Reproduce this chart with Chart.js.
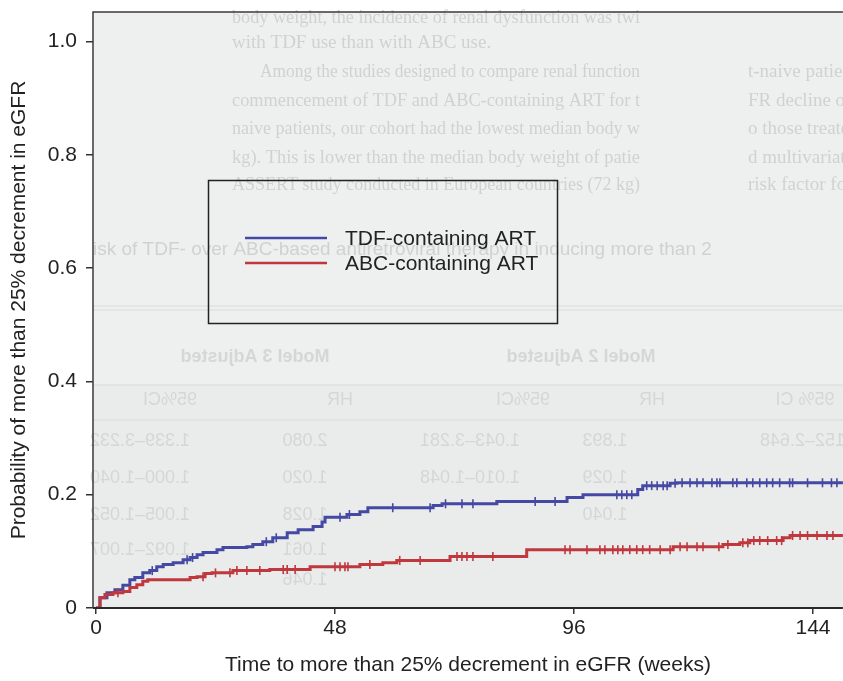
<!DOCTYPE html>
<html>
<head>
<meta charset="utf-8">
<script src="https://cdn.jsdelivr.net/npm/chart.js@4.4.1/dist/chart.umd.min.js"></script>
<style>
  html, body { margin: 0; padding: 0; background: #fff; overflow: hidden; width: 843px; height: 681px; }
</style>
</head>
<body>
<!-- a few px wider than the window: the censor marks make Chart.js keep a small right margin -->
<canvas id="myChart" width="849" height="681"></canvas>
<script>
// series (weeks, cumulative probability)
const seriesLabels = ["TDF-containing ART", "ABC-containing ART"];

const tdfWeeks = [0, 0.8, 2.2, 3.8, 5.4, 6.8, 7.8, 9.4, 10.8, 12.2, 13.5, 15.5, 17.5, 18.9, 20.3,
  21.5, 24.3, 25.5, 30.3, 31.5, 33.5, 35.5, 38.4, 40.6, 43.6, 45.4, 46.0, 50.4, 53.0, 54.6,
  67.7, 69.5, 80.5, 94.6, 97.8, 108.8, 109.8, 115.3, 116.7];
const tdfProb = [0, 0.018, 0.027, 0.032, 0.040, 0.050, 0.054, 0.062, 0.066, 0.073, 0.077, 0.080, 0.085, 0.089, 0.094,
  0.098, 0.103, 0.107, 0.108, 0.112, 0.117, 0.124, 0.133, 0.138, 0.144, 0.152, 0.160, 0.165, 0.170, 0.177,
  0.181, 0.184, 0.188, 0.195, 0.200, 0.209, 0.216, 0.220, 0.221];
const tdfCensor = [11.3, 18.3, 19.4, 34.2, 36.2, 49.0, 50.9, 59.6, 67.1, 70.2, 73.5, 75.7, 88.2, 92.2,
  104.6, 105.6, 106.6, 107.6, 110.6, 111.6, 112.7, 113.9, 114.7, 116.3, 117.7, 119.3, 120.7, 121.9,
  123.7, 124.7, 125.3, 127.9, 128.7, 130.7, 131.9, 133.3, 134.7, 135.9, 137.3, 139.3, 139.9, 142.9,
  145.9, 147.7, 148.8];

const abcWeeks = [0, 0.8, 1.8, 3.4, 5.4, 6.8, 8.2, 9.4, 10.4, 18.9, 20.3, 21.9, 23.3, 27.5, 34.9,
  43.0, 53.0, 57.6, 60.4, 71.1, 86.5, 115.9, 125.9, 129.3, 131.3, 138.0, 139.4];
const abcProb = [0, 0.018, 0.024, 0.027, 0.029, 0.036, 0.041, 0.047, 0.050, 0.054, 0.055, 0.061, 0.062, 0.066, 0.068,
  0.073, 0.077, 0.080, 0.084, 0.091, 0.103, 0.108, 0.112, 0.115, 0.119, 0.124, 0.128];
const abcCensor = [4.4, 21.5, 24.0, 26.9, 28.3, 30.3, 32.9, 37.6, 38.4, 40.0, 48.0, 49.0, 50.0, 50.6,
  55.0, 61.0, 65.1, 72.5, 73.5, 74.5, 75.7, 79.7, 94.2, 95.2, 98.6, 101.2, 102.2, 103.8, 104.8,
  105.8, 107.2, 108.6, 109.8, 111.2, 113.3, 115.3, 117.3, 118.7, 120.7, 121.9, 125.1, 126.9, 129.9,
  130.9, 132.1, 133.3, 134.9, 136.7, 137.7, 139.9, 141.4, 142.9, 144.8, 146.8, 148.0];

const followUpEnd = 150;
const xTicks = [0, 48, 96, 144];
const yTicks = [0, 0.2, 0.4, 0.6, 0.8, 1.0];

const blue = "#4549a3";
const red = "#c0373d";
const ink = "#222";

// step curve points, held to end of follow-up
function curvePoints(weeks, probs) {
  const pts = weeks.map((w, i) => ({ x: w, y: probs[i] }));
  pts.push({ x: followUpEnd, y: probs[probs.length - 1] });
  return pts;
}

// value of the step curve at a censoring time
function censorPoints(weeks, probs, times) {
  return times.map((t) => {
    let v = 0;
    weeks.forEach((w, i) => { if (w <= t) v = probs[i]; });
    return { x: t, y: v };
  });
}

function censorSet(points, color) {
  return {
    label: "censored",
    data: points,
    showLine: false,
    pointStyle: "line",
    rotation: 90,
    pointRadius: 4.5,
    pointHoverRadius: 4.5,
    pointBorderWidth: 1.6,
    borderColor: color,
    backgroundColor: color,
  };
}

// faint print showing through the scanned page
const bleedPlugin = {
  id: "bleed",
  beforeDraw(chart) {
    const { ctx, chartArea: a } = chart;
    ctx.save();
    ctx.fillStyle = "#fff";
    ctx.fillRect(0, 0, chart.width, chart.height);
    ctx.fillStyle = "#eef0ef";
    ctx.fillRect(a.left, a.top, a.right - a.left, a.bottom - a.top);
    ctx.fillStyle = "#e9eceb";
    ctx.fillRect(a.left, 385, a.right - a.left, a.bottom - 385);

    ctx.fillStyle = "#cfd2d1";
    ctx.textBaseline = "middle";
    ctx.font = "19px 'Liberation Serif', serif";
    const left = [
      ["body weight, the incidence of renal dysfunction was twi", 232, 18],
      ["with TDF use than with ABC use.", 232, 43],
      ["Among the studies designed to compare renal function", 260, 72],
      ["commencement of TDF and ABC-containing ART for t", 232, 101],
      ["naive patients, our cohort had the lowest median body w", 232, 129],
      ["kg). This is lower than the median body weight of patie", 232, 158],
      ["ASSERT study conducted in European countries (72 kg)", 232, 185],
    ];
    left.forEach(([t, x, y]) => ctx.fillText(t, x, y, 640 - x));
    const right = [
      ["t-naive patients", 72], ["FR decline of", 101], ["o those treated", 129],
      ["d multivariate", 158], ["risk factor for", 185],
    ];
    right.forEach(([t, y]) => ctx.fillText(t, 748, y));

    ctx.font = "19px 'Liberation Sans', Arial, sans-serif";
    ctx.fillText("isk of TDF- over ABC-based antiretroviral therapy in inducing more than 2", 93, 250, 750);

    ctx.strokeStyle = "#d8dbda";
    ctx.lineWidth = 1;
    [306, 310, 385, 420].forEach((y) => {
      ctx.beginPath(); ctx.moveTo(a.left, y); ctx.lineTo(a.right, y); ctx.stroke();
    });

    // mirrored table text
    ctx.fillStyle = "#d4d7d6";
    ctx.textAlign = "center";
    const mirror = (t, x, y) => {
      ctx.save(); ctx.translate(x, y); ctx.scale(-1, 1); ctx.fillText(t, 0, 0); ctx.restore();
    };
    ctx.font = "bold 18px 'Liberation Sans', Arial, sans-serif";
    mirror("Model 3 Adjusted", 255, 357);
    mirror("Model 2 Adjusted", 581, 357);
    ctx.font = "18px 'Liberation Sans', Arial, sans-serif";
    [["95%CI", 170], ["HR", 340], ["95%CI", 523], ["HR", 652], ["95% CI", 805]].forEach(([t, x]) => mirror(t, x, 400));
    [["1.339–3.232", 140], ["2.080", 305], ["1.043–3.281", 470], ["1.893", 605], ["1.152–2.648", 810]].forEach(([t, x]) => mirror(t, x, 441));
    [["1.000–1.040", 140], ["1.020", 305], ["1.010–1.048", 470], ["1.029", 605]].forEach(([t, x]) => mirror(t, x, 478));
    [["1.005–1.052", 140], ["1.028", 305], ["1.040", 605]].forEach(([t, x]) => mirror(t, x, 515));
    [["1.092–1.007", 140], ["1.061", 305]].forEach(([t, x]) => mirror(t, x, 550));
    mirror("1.046", 305, 580);
    ctx.restore();
  },
};

// plot frame and the boxed legend
const framePlugin = {
  id: "frame",
  afterDraw(chart) {
    const { ctx, chartArea: a } = chart;
    ctx.save();
    ctx.strokeStyle = "#3a3a3a";
    ctx.lineWidth = 1.5;
    ctx.beginPath();
    ctx.moveTo(a.right, a.top);
    ctx.lineTo(a.left, a.top);
    ctx.lineTo(a.left, a.bottom);
    ctx.stroke();
    ctx.lineWidth = 2;
    ctx.strokeStyle = "#2a2a2a";
    ctx.beginPath();
    ctx.moveTo(a.left, a.bottom);
    ctx.lineTo(a.right, a.bottom);
    ctx.stroke();

    ctx.lineWidth = 1.5;
    ctx.strokeStyle = "#222";
    ctx.strokeRect(208.5, 180.5, 349, 143);
    const colors = [blue, red];
    ctx.font = "21px 'Liberation Sans', Arial, sans-serif";
    ctx.textBaseline = "middle";
    ctx.fillStyle = ink;
    seriesLabels.forEach((lab, i) => {
      const y = 238 + i * 25;
      ctx.strokeStyle = colors[i];
      ctx.lineWidth = 2.5;
      ctx.beginPath();
      ctx.moveTo(245, y);
      ctx.lineTo(327, y);
      ctx.stroke();
      ctx.fillText(lab, 345, y + 1);
    });
    ctx.restore();
  },
};

Chart.defaults.font.family = "'Liberation Sans', Arial, sans-serif";
Chart.defaults.font.size = 21;
Chart.defaults.color = ink;

const ctx = document.getElementById("myChart").getContext("2d");
const myChart = new Chart(ctx, {
  type: "line",
  data: {
    datasets: [
      censorSet(censorPoints(abcWeeks, abcProb, abcCensor), red),
      censorSet(censorPoints(tdfWeeks, tdfProb, tdfCensor), blue),
      {
        label: seriesLabels[1],
        data: curvePoints(abcWeeks, abcProb),
        stepped: true,
        borderColor: red,
        borderWidth: 3,
        pointRadius: 0,
        fill: false,
      },
      {
        label: seriesLabels[0],
        data: curvePoints(tdfWeeks, tdfProb),
        stepped: true,
        borderColor: blue,
        borderWidth: 3,
        pointRadius: 0,
        fill: false,
      },
    ],
  },
  options: {
    responsive: false,
    animation: false,
    events: [],
    layout: { padding: { top: 12, right: 0, bottom: 0, left: 0 } },
    plugins: { legend: { display: false }, tooltip: { enabled: false } },
    scales: {
      x: {
        type: "linear",
        min: -0.6,
        max: 150,
        afterBuildTicks: (s) => { s.ticks = xTicks.map((v) => ({ value: v })); },
        afterFit: (s) => { s.height = 73; s.paddingLeft = 0; s.paddingRight = 0; },
        ticks: { padding: 2, maxRotation: 0, autoSkip: false, callback: (v) => String(v) },
        grid: { drawOnChartArea: false, drawTicks: true, tickLength: 6, color: "#333", lineWidth: 1.5 },
        border: { display: false },
        title: {
          display: true,
          text: "Time to more than 25% decrement in eGFR (weeks)",
          font: { size: 21 },
          padding: { top: 0, bottom: 3 },
        },
      },
      y: {
        type: "linear",
        min: 0,
        max: 1.052,
        afterBuildTicks: (s) => { s.ticks = yTicks.map((v) => ({ value: v })); },
        afterFit: (s) => { s.width = 93; s.paddingTop = 0; s.paddingBottom = 0; },
        ticks: { padding: 9, callback: (v) => (v === 0 ? "0" : v.toFixed(1)) },
        grid: { drawOnChartArea: false, drawTicks: true, tickLength: 7, color: "#333", lineWidth: 1.5 },
        border: { display: false },
        title: {
          display: true,
          text: "Probability of more than 25% decrement in eGFR",
          font: { size: 21 },
          padding: { top: 7, bottom: 0 },
        },
      },
    },
  },
  plugins: [bleedPlugin, framePlugin],
});
</script>
</body>
</html>
